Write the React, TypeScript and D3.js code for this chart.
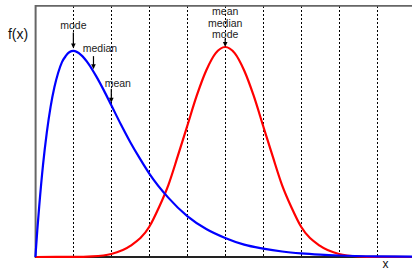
import { useEffect, useRef } from "react";
import * as d3 from "d3";

// skewed curve (blue)
const skewX = [0, 0.05, 0.1, 0.2, 0.3, 0.4, 0.5, 0.6, 0.7, 0.8, 0.9, 1.0, 1.2, 1.4, 1.6, 1.8, 2.0, 2.25, 2.5, 2.75, 3.0, 3.5, 4.0, 4.5, 5.0, 5.5, 6.0, 6.5, 7.0, 7.5, 8.0, 9.0, 10];
const skewY = [0, 0.048, 0.09, 0.164, 0.222, 0.268, 0.303, 0.329, 0.348, 0.359, 0.366, 0.368, 0.361, 0.345, 0.323, 0.298, 0.271, 0.237, 0.205, 0.176, 0.149, 0.106, 0.073, 0.05, 0.034, 0.022, 0.015, 0.0098, 0.0064, 0.0042, 0.0027, 0.0011, 0.0005];

// symmetric curve (red)
const symX = [0, 1, 1.5, 2, 2.5, 3, 3.25, 3.5, 3.75, 4, 4.25, 4.5, 4.75, 5, 5.25, 5.5, 5.75, 6, 6.25, 6.5, 6.75, 7, 7.5, 8, 8.5, 9, 10];
const symY = [0, 0.0002, 0.0012, 0.0054, 0.0197, 0.054, 0.088, 0.128, 0.18, 0.234, 0.288, 0.333, 0.364, 0.375, 0.364, 0.333, 0.288, 0.234, 0.18, 0.128, 0.088, 0.054, 0.0197, 0.0054, 0.0012, 0.0002, 0];

const gridTicks = [1, 2, 3, 4, 5, 6, 7, 8, 9];

// labels + where their arrows point
const skewMarks = [
  { lines: ["mode"], at: 1.0, val: 0.368, dx: 0, len: 16, off: 2.5, gap: 3 },
  { lines: ["median"], at: 1.53, val: 0.331, dx: 6.5, len: 13, off: 2.5, gap: 4 },
  { lines: ["mean"], at: 2.0, val: 0.271, dx: 6.5, len: 14, off: 2.5, gap: 2 },
];
const symMarks = [{ lines: ["mean", "median", "mode"], at: 5.0, val: 0.375, dx: 0, len: 8.5, off: 0, gap: 0.5 }];

export default function App() {
  const svgRef = useRef<SVGSVGElement>(null);

  useEffect(() => {
    if (!svgRef.current) return;
    const svg = d3.select(svgRef.current);
    svg.selectAll("*").remove();

    const x = d3.scaleLinear().domain([0, 10]).range([35.4, 415]);
    const y = d3.scaleLinear().domain([0, 0.45]).range([257, 5]);
    const font = "Liberation Sans, Arial, Helvetica, sans-serif";

    // dotted grid
    svg.append("g")
      .selectAll("line")
      .data(gridTicks)
      .join("line")
      .attr("x1", (d) => Math.round(x(d)) + 0.5)
      .attr("x2", (d) => Math.round(x(d)) + 0.5)
      .attr("y1", 6)
      .attr("y2", 257)
      .attr("stroke", "#000")
      .attr("stroke-width", 1)
      .attr("stroke-dasharray", "2,2");

    // frame
    svg.append("line").attr("x1", 35.5).attr("x2", 412).attr("y1", 5.8).attr("y2", 5.8)
      .attr("stroke", "#666").attr("stroke-width", 1.8);
    svg.append("line").attr("x1", 35.6).attr("x2", 35.6).attr("y1", 5).attr("y2", 258)
      .attr("stroke", "#666").attr("stroke-width", 2);
    svg.append("line").attr("x1", 35).attr("x2", 412).attr("y1", 257).attr("y2", 257)
      .attr("stroke", "#222").attr("stroke-width", 2);

    const line = d3.line<number>()
      .x((d) => x(d))
      .curve(d3.curveMonotoneX);

    svg.append("path")
      .attr("d", line.y((_, i) => y(symY[i]))(symX))
      .attr("fill", "none").attr("stroke", "#ff0000").attr("stroke-width", 2.2);
    svg.append("path")
      .attr("d", line.y((_, i) => y(skewY[i]))(skewX))
      .attr("fill", "none").attr("stroke", "#0000ff").attr("stroke-width", 2.2);

    // annotations
    const drawMarks = (marks: typeof skewMarks) => {
      marks.forEach((m) => {
        const px = x(m.at);
        const tip = y(m.val) - m.off;
        const top = tip - m.len;
        svg.append("line").attr("x1", px).attr("x2", px).attr("y1", top).attr("y2", tip - 4)
          .attr("stroke", "#000").attr("stroke-width", 1.2);
        svg.append("path")
          .attr("d", `M${px - 2.3},${tip - 5}L${px + 2.3},${tip - 5}L${px},${tip}Z`)
          .attr("fill", "#000");
        const n = m.lines.length;
        m.lines.forEach((t, i) => {
          svg.append("text")
            .attr("x", px + m.dx)
            .attr("y", top - m.gap - (n - 1 - i) * 11.5)
            .attr("text-anchor", "middle")
            .attr("font-family", font)
            .attr("font-size", 10.5)
            .attr("fill", "#222")
            .text(t);
        });
      });
    };
    drawMarks(skewMarks);
    drawMarks(symMarks);

    // axis labels
    svg.append("text").attr("x", 18).attr("y", 39).attr("text-anchor", "middle")
      .attr("font-family", font).attr("font-size", 14).attr("fill", "#111").text("f(x)");
    svg.append("text").attr("x", 385.5).attr("y", 267.5).attr("text-anchor", "middle")
      .attr("font-family", font).attr("font-size", 12).attr("fill", "#111").text("x");
  }, []);

  return (
    <svg
      ref={svgRef}
      width={412}
      height={269}
      style={{ position: "absolute", left: 0, top: 0, background: "#fff" }}
    />
  );
}
